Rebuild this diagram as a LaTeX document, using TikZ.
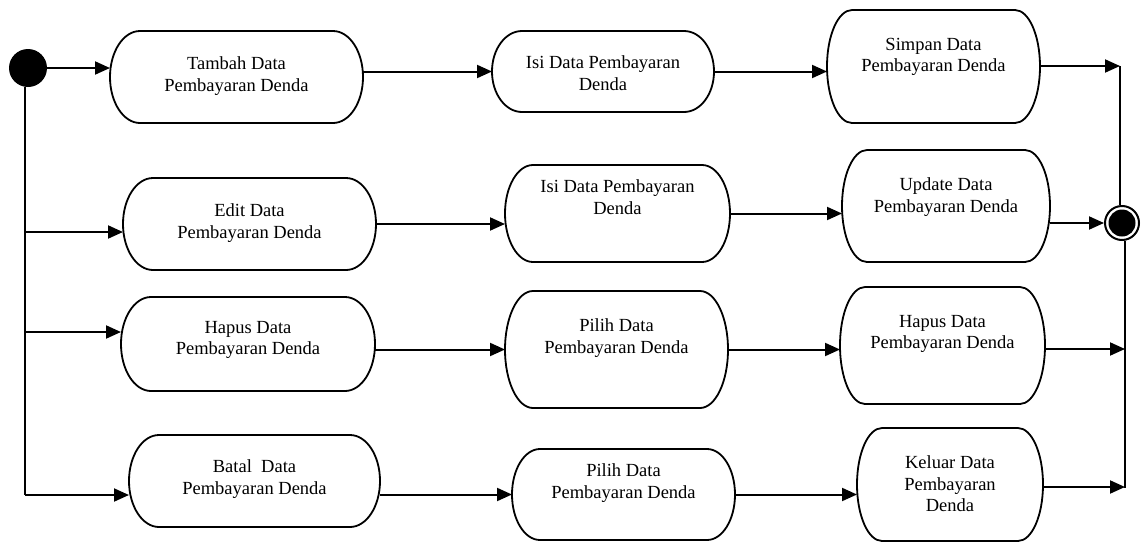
\documentclass[tikz,border=0pt]{standalone}
\usepackage{fontspec}
\setmainfont{Liberation Serif}
\usetikzlibrary{arrows.meta}

% activity box: name, x1, y1, x2, y2, corner radius, text centre y, text
\newcommand\actbox[8]{%
  \pgfmathsetmacro\boxw{#4-#2}%
  \pgfmathsetmacro\boxh{#5-#3}%
  \pgfmathsetmacro\boxry{(#5-#3)/2}%
  \node[frame, minimum width=\boxw pt, minimum height=\boxh pt] (#1) at ({(#2+#4)/2},{(#3+#5)/2}) {};
  \draw[outline] ([xshift=#6pt]#1.north west) -- ([xshift=-#6pt]#1.north east)
    arc[start angle=90, end angle=-90, x radius=#6pt, y radius=\boxry pt]
    -- ([xshift=#6pt]#1.south west)
    arc[start angle=270, end angle=90, x radius=#6pt, y radius=\boxry pt] -- cycle;
  \node[boxtext] (#1-text) at ({(#2+#4)/2},#7) {#8};
}

\tikzset{
  frame/.style={draw=none, inner sep=0pt, outer sep=0pt, rectangle},
  outline/.style={draw=black, line width=1.8pt},
  boxtext/.style={align=center, inner sep=0pt, font=\fontsize{18.5}{21.5}\selectfont},
  line/.style={draw=black, line width=2pt},
  flow/.style={line, -{Triangle[length=15pt, width=13pt]}},
}

\begin{document}
\begin{tikzpicture}[x=1pt, y=-1pt]
  \useasboundingbox (0,0) rectangle (1141,544);

  % start and end states
  \node[circle, fill=black, minimum size=38pt, inner sep=0pt] (start) at (28,68) {};
  \node[circle, draw=black, line width=2pt, fill=white, minimum size=34pt, inner sep=0pt] (final) at (1122,223) {};
  \fill[black] (final.center) circle[radius=13.5pt];

  % row 1
  \actbox{tambah}{110}{31}{363}{123}{30}{76}{Tambah Data\\Pembayaran Denda}
  \actbox{isi1}{492}{31}{714}{112}{30}{73}{Isi Data Pembayaran\\Denda}
  \actbox{simpan}{827}{10}{1040}{123}{25}{57}{Simpan Data\\Pembayaran Denda}
  % row 2
  \actbox{edit}{123}{178}{376}{270}{30}{223}{Edit Data\\Pembayaran Denda}
  \actbox{isi2}{505}{165}{730}{262}{28}{197}{Isi Data Pembayaran\\Denda}
  \actbox{update}{842}{150}{1050}{262}{25}{197}{Update Data\\Pembayaran Denda}
  % row 3
  \actbox{hapus}{121}{297}{375}{391}{30}{340}{Hapus Data\\Pembayaran Denda}
  \actbox{pilih1}{505}{291}{728}{408}{28}{338}{Pilih Data\\Pembayaran Denda}
  \actbox{hapus2}{840}{287}{1045}{404}{25}{334}{Hapus Data\\Pembayaran Denda}
  % row 4
  \actbox{batal}{129}{435}{380}{527}{30}{479}{Batal\ \ Data\\Pembayaran Denda}
  \actbox{pilih2}{512}{449}{735}{540}{28}{483}{Pilih Data\\Pembayaran Denda}
  \actbox{keluar}{857}{428}{1043}{541}{25}{484}{Keluar Data\\Pembayaran\\Denda}

  % junctions on the left trunk and right collector
  \coordinate (t2) at (25,232);
  \coordinate (t3) at (25,332);
  \coordinate (t4) at (25,495);
  \coordinate (r1) at (1120,66);
  \coordinate (r3) at (1125,349);
  \coordinate (r4) at (1125,487);

  % fork from the start state
  \draw[flow] (start.east) -- (start.east -| tambah.west);
  \draw[line] (t4 |- start.south) -- (t4);
  \draw[flow] (t2) -- (t2 -| edit.west);
  \draw[flow] (t3) -- (t3 -| hapus.west);
  \draw[flow] (t4) -- (t4 -| batal.west);

  % row transitions
  \draw[flow] (tambah.east |- isi1.west) -- (isi1.west);
  \draw[flow] (isi1.east) -- (isi1.east -| simpan.west);
  \draw[flow] (edit.east) -- (edit.east -| isi2.west);
  \draw[flow] (isi2.east) -- (isi2.east -| update.west);
  \draw[flow] (hapus.east |- pilih1.west) -- (pilih1.west);
  \draw[flow] (pilih1.east) -- (pilih1.east -| hapus2.west);
  \draw[flow] (batal.east |- pilih2.west) -- (pilih2.west);
  \draw[flow] (pilih2.east) -- (pilih2.east -| keluar.west);

  % join into the end state
  \draw[flow] (simpan.east |- r1) -- (r1);
  \draw[line] (r1) -- (r1 |- final.north);
  \draw[flow] (update.east |- final.west) -- (final.west);
  \draw[line] (r4 |- final.south) -- ([yshift=-1pt]r4);
  \draw[flow] (hapus2.east |- r3) -- (r3);
  \draw[flow] (keluar.east |- r4) -- (r4);
\end{tikzpicture}
\end{document}
